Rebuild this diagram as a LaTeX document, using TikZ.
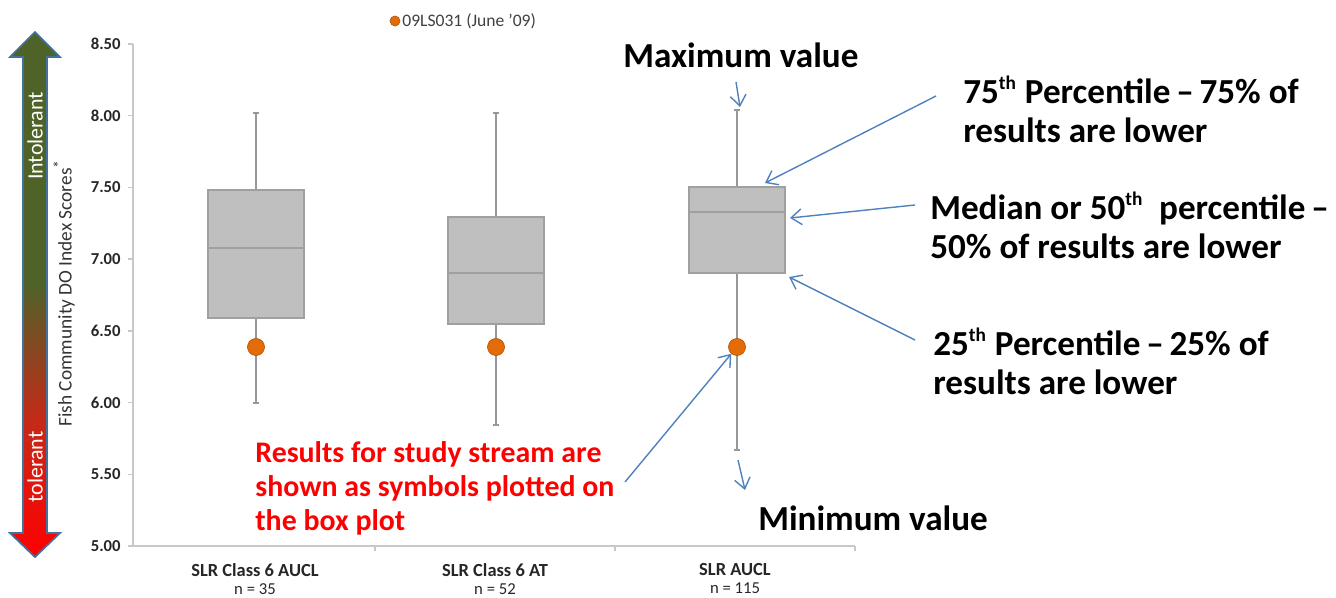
\documentclass[tikz,border=0pt]{standalone}
\usepackage{fontspec}
\setmainfont{Carlito}
\usetikzlibrary{arrows.meta}
\definecolor{boxgray}{HTML}{BFBFBF}
\definecolor{edgegray}{HTML}{A0A0A0}
\definecolor{whiskgray}{HTML}{989898}
\definecolor{axisgray}{HTML}{C8C8C8}
\definecolor{dotorange}{HTML}{E36C09}
\definecolor{dotedge}{HTML}{B65708}
\definecolor{callblue}{HTML}{4F81BD}
\definecolor{tolgreen}{HTML}{4F6228}
\definecolor{tolred}{HTML}{FF0000}
\definecolor{tolmid}{HTML}{C42A18}
\definecolor{arrowedge}{HTML}{41719C}
\pgfdeclareverticalshading{tolerance}{100bp}{color(0bp)=(tolred); color(25bp)=(tolred); color(38bp)=(tolmid); color(51bp)=(tolgreen); color(100bp)=(tolgreen)}
\newcommand\ordsup[1]{\textsuperscript{\fontsize{11}{11}\selectfont #1}}
\begin{document}
\begin{tikzpicture}
	[x=0.02cm,y=-0.02cm,
	tick/.style={font=\fontsize{9.5}{11}\selectfont\bfseries,text=black!85,anchor=east,inner sep=0},
	cat/.style={font=\fontsize{10.5}{10.2}\selectfont,text=black!85,align=center,anchor=north,inner sep=0},
	box/.style={draw=edgegray,fill=boxgray,line width=0.8pt},
	whisker/.style={draw=whiskgray,line width=0.8pt},
	axis/.style={draw=axisgray,line width=0.8pt},
	dot/.style={circle,draw=dotedge,fill=dotorange,inner sep=0,minimum size=0.34cm},
	note/.style={font=\fontsize{20}{22.5}\selectfont\bfseries,align=left,anchor=north west,inner sep=0},
	call/.style={->,draw=callblue,line width=0.8pt},
	>={Straight Barb[length=6pt,width=9pt]}]
	\useasboundingbox (0,0) rectangle (1336,598);
	% tolerance arrow
	\draw[shading=tolerance,draw=arrowedge,line width=1pt]
		(35,32)--(60,57)--(47,57)--(47,533)--(60,533)--(35,557)--(10,533)--(23,533)--(23,57)--(10,57)--cycle;
	\node[name=intol,rotate=90,text=white,font=\fontsize{12.5}{15}\selectfont]at(35,136){Intolerant};
	\node[name=tol,rotate=90,text=white,font=\fontsize{12.5}{15}\selectfont]at(35,467){tolerant};
	\node[name=ytitle,rotate=90,text=black!80,font=\fontsize{11}{13}\selectfont]at(64,293){Fish Community DO Index Scores\textsuperscript{\fontsize{9}{9}\selectfont *}};
	% axes
	\draw[axis](133,44)--(133,546)--(855,546);
	\foreach \lab [count=\i from 0] in {5.00,5.50,6.00,6.50,7.00,7.50,8.00,8.50}{
		\draw[axis](128,{546-71.714*\i})--(133,{546-71.714*\i});
		\node[tick,name=t\i]at(121,{546-71.714*\i}){\lab};
	}
	\foreach \x in {375,615,855}
		\draw[axis](\x,546)--(\x,551);
	% boxes
	\foreach \cx/\mx/\qt/\md/\qb/\mn/\nm in {256/113/190/248/318/403/a,496/113/217/273/324/425/b,737/110/187/212/273/450/c}{
		\draw[whisker](\cx,\mx)--(\cx,\mn);
		\draw[whisker](\cx-3,\mx)--(\cx+3,\mx) (\cx-3,\mn)--(\cx+3,\mn);
		\draw[box](\cx-48,\qt)rectangle(\cx+48,\qb);
		\draw[box](\cx-48,\md)--(\cx+48,\md);
		\node[dot,name=dot\nm]at(\cx,347){};
	}
	\node[cat,name=cata]at(255,563){{\bfseries SLR Class 6 AUCL}\\{\fontsize{9.5}{10}\selectfont n = 35}};
	\node[cat,name=catb]at(495,563){{\bfseries SLR Class 6 AT}\\{\fontsize{9.5}{10}\selectfont n = 52}};
	\node[cat,name=catc]at(735,563){{\bfseries SLR AUCL}\\{\fontsize{9.5}{10}\selectfont n = 115}};
	% legend
	\node[dot,name=legdot,minimum size=0.2cm]at(395,21){};
	\node[name=legtext,anchor=west,inner sep=0,text=black!75,font=\fontsize{10}{12}\selectfont]at(402,21){09LS031 (June '09)};
	% notes
	\node[note,name=maxlab]at(623,42){Maximum value};
	\node[note,name=p75]at(963,76){75\ordsup{th} Percentile\,–\,75\% of\\results are lower};
	\node[note,name=p50]at(930,192){Median or 50\ordsup{th}\ \ percentile\,–\\50\% of results are lower};
	\node[note,name=p25]at(933,328){25\ordsup{th} Percentile\,–\,25\% of\\results are lower};
	\node[note,name=minlab]at(758,505){Minimum value};
	\node[note,name=study,text=red,font=\fontsize{17}{19.3}\selectfont\bfseries]at(255,441){Results for study stream are\\shown as symbols plotted on\\the box plot};
	\coordinate (maxtail) at (736,82);
	\coordinate (maxc) at (740,107);
	\coordinate (tail75) at (936,96);
	\coordinate (q3c) at (765,183);
	\coordinate (tail50) at (915,205);
	\coordinate (medc) at (790,218);
	\coordinate (tail25) at (915,340);
	\coordinate (q1c) at (789,277);
	\coordinate (mintail) at (738,460);
	\coordinate (minc) at (745,490);
	\coordinate (studytail) at (625,482);
	\draw[call](maxtail)--(maxc);
	\draw[call](tail75)--(q3c);
	\draw[call](tail50)--(medc);
	\draw[call](tail25)--(q1c);
	\draw[call](mintail)--(minc);
	\draw[call](studytail)--(dotc.230);
\end{tikzpicture}
\end{document}
